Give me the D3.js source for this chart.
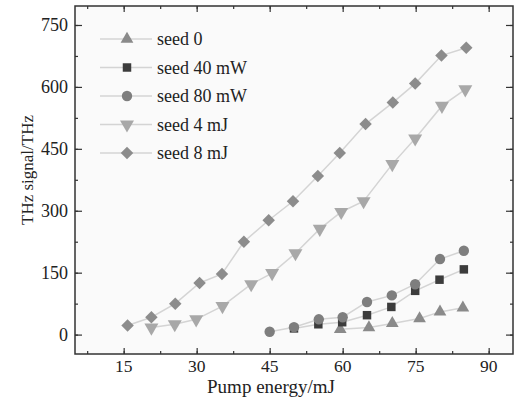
<!DOCTYPE html>
<html>
<head>
<meta charset="utf-8">
<script src="https://cdn.jsdelivr.net/npm/d3@7"></script>
<style>
  body { margin: 0; background: #fff; }
  text { font-family: "Liberation Serif", "Times New Roman", serif; fill: #222; }
</style>
</head>
<body>
<div id="chart"></div>
<script>
// data
const seed0 = [[59.5, 13], [65.4, 17], [70.2, 27], [75.8, 39], [80, 55], [84.7, 65]];
const seed40mW = [[50, 15], [55, 25], [59.9, 30], [65, 47], [70, 67], [74.9, 106], [79.9, 133], [84.9, 158]];
const seed80mW = [[45, 7], [50, 18], [55.1, 37], [60, 42], [65, 79], [70.1, 95], [74.9, 122], [80, 183], [84.9, 203]];
const seed4mJ = [[20.7, 17], [25.5, 25], [29.9, 37], [35.3, 69], [41.2, 122], [45.5, 149], [50.3, 197],
  [55.3, 256], [59.7, 297], [64.3, 323], [70.2, 413], [74.9, 475], [80.4, 554], [85.2, 594]];
const seed8mJ = [[15.8, 22], [20.7, 42], [25.6, 75], [30.6, 125], [35.2, 147], [39.7, 225], [44.8, 277],
  [49.8, 323], [54.9, 384], [59.4, 440], [64.7, 510], [70.3, 562], [74.9, 608], [80.3, 676], [85.4, 695]];

const seriesNames = ["seed 0", "seed 40 mW", "seed 80 mW", "seed 4 mJ", "seed 8 mJ"];
const xTicks = [15, 30, 45, 60, 75, 90];
const yTicks = [0, 150, 300, 450, 600, 750];

const series = [
  { name: seriesNames[0], data: seed0, shape: d3.symbolTriangle, size: 70, color: "#8a8a8a" },
  { name: seriesNames[1], data: seed40mW, shape: d3.symbolSquare, size: 72, color: "#3c3c3c" },
  { name: seriesNames[2], data: seed80mW, shape: d3.symbolCircle, size: 85, color: "#7e7e7e" },
  { name: seriesNames[3], data: seed4mJ, shape: d3.symbolTriangle, size: 85, color: "#a8a8a8", rot: 180 },
  { name: seriesNames[4], data: seed8mJ, shape: d3.symbolSquare, size: 78, color: "#8c8c8c", rot: 45 }
];

const W = 514, H = 397;
const mLeft = 75, mRight = 513, mTop = 6, mBottom = 354;

const svg = d3.select("#chart").append("svg")
  .attr("width", W).attr("height", H);

const x = d3.scaleLinear().domain([5, 95]).range([mLeft, mRight]);
const y = d3.scaleLinear().domain([-47, 796]).range([mBottom, mTop]);

// plot background
svg.append("rect")
  .attr("x", mLeft).attr("y", mTop)
  .attr("width", mRight - mLeft).attr("height", mBottom - mTop)
  .attr("fill", "#fafafa");

const minorX = d3.range(7.5, 95, 7.5);
const minorY = d3.range(0, 796, 75);

function tickSet(g, axis, values, len) {
  g.call(axis.tickValues(values).tickSize(len).tickFormat(""))
    .call(s => s.select(".domain").remove())
    .call(s => s.selectAll("line").attr("stroke", "#333").attr("stroke-width", 1.2));
}

// inward ticks on all four sides
tickSet(svg.append("g").attr("transform", `translate(0,${mBottom})`), d3.axisTop(x), minorX, 3);
tickSet(svg.append("g").attr("transform", `translate(0,${mBottom})`), d3.axisTop(x), xTicks, 6);
tickSet(svg.append("g").attr("transform", `translate(0,${mTop})`), d3.axisBottom(x), minorX, 3);
tickSet(svg.append("g").attr("transform", `translate(0,${mTop})`), d3.axisBottom(x), xTicks, 6);
tickSet(svg.append("g").attr("transform", `translate(${mLeft},0)`), d3.axisRight(y), minorY, 3);
tickSet(svg.append("g").attr("transform", `translate(${mLeft},0)`), d3.axisRight(y), yTicks, 7);
tickSet(svg.append("g").attr("transform", `translate(${mRight},0)`), d3.axisLeft(y), minorY, 3);
tickSet(svg.append("g").attr("transform", `translate(${mRight},0)`), d3.axisLeft(y), yTicks, 7);

// tick labels
svg.append("g").selectAll("text").data(xTicks).enter().append("text")
  .attr("x", d => x(d)).attr("y", 372)
  .attr("text-anchor", "middle").attr("font-size", 17.5)
  .text(d => d);
svg.append("g").selectAll("text").data(yTicks).enter().append("text")
  .attr("x", 68).attr("y", d => y(d) + 6)
  .attr("text-anchor", "end").attr("font-size", 18)
  .text(d => d);

// frame
svg.append("rect")
  .attr("x", mLeft).attr("y", mTop)
  .attr("width", mRight - mLeft).attr("height", mBottom - mTop)
  .attr("fill", "none").attr("stroke", "#333").attr("stroke-width", 1.5);

// axis titles
svg.append("text")
  .attr("x", 271).attr("y", 393)
  .attr("text-anchor", "middle").attr("font-size", 19)
  .text("Pump energy/mJ");
svg.append("text")
  .attr("transform", "translate(33,170) rotate(-90)")
  .attr("text-anchor", "middle").attr("font-size", 17)
  .text("THz signal/THz");

const line = d3.line().x(d => x(d[0])).y(d => y(d[1]));

function marker(sel, s) {
  sel.attr("d", d3.symbol().type(s.shape).size(s.size))
    .attr("fill", s.color);
}

series.forEach(s => {
  const g = svg.append("g");
  g.append("path").datum(s.data)
    .attr("d", line)
    .attr("fill", "none").attr("stroke", "#d4d4d4").attr("stroke-width", 1.5);
  g.selectAll("path.m").data(s.data).enter().append("path")
    .attr("class", "m")
    .attr("transform", d => `translate(${x(d[0])},${y(d[1])}) rotate(${s.rot || 0})`)
    .call(marker, s);
});

// legend
const legend = svg.append("g");
series.forEach((s, i) => {
  const ly = 39 + i * 28.5;
  legend.append("line")
    .attr("x1", 100).attr("x2", 152).attr("y1", ly).attr("y2", ly)
    .attr("stroke", "#d4d4d4").attr("stroke-width", 1.5);
  legend.append("path")
    .attr("transform", `translate(127,${ly}) rotate(${s.rot || 0})`)
    .call(marker, s);
  legend.append("text")
    .attr("x", 157).attr("y", ly + 6)
    .attr("font-size", 18)
    .text(s.name);
});
</script>
</body>
</html>
